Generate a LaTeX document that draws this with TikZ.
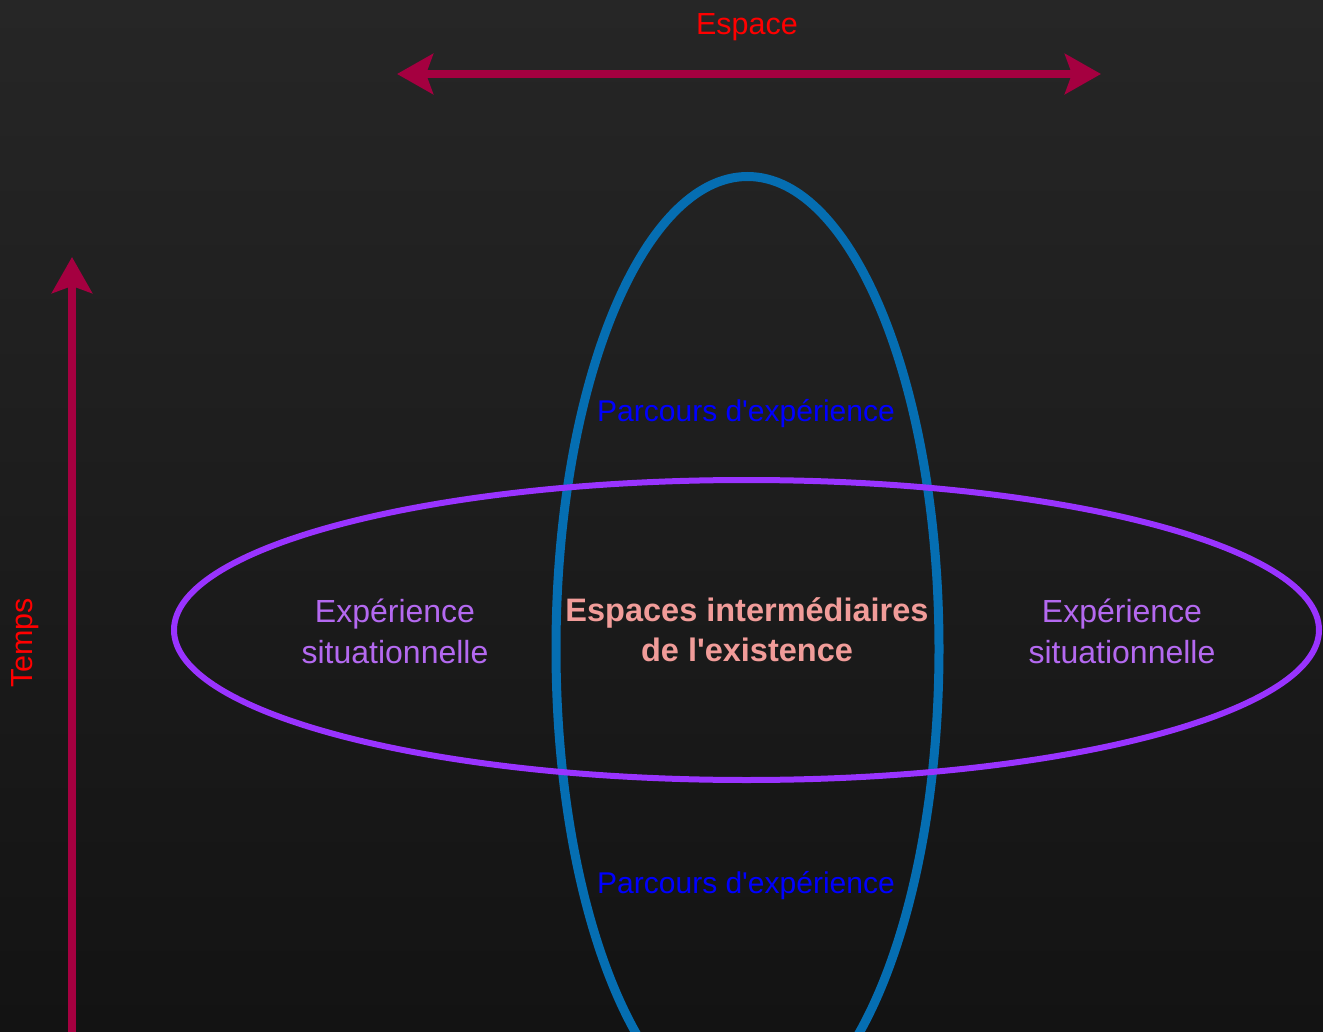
\documentclass[tikz,border=0pt]{standalone}
\usepackage{fontspec}
\setmainfont{Liberation Sans}[Ligatures=TeXOff]
\usetikzlibrary{arrows.meta}
\definecolor{bgtop}{RGB}{38,38,38}
\definecolor{bgbot}{RGB}{19,19,19}
\definecolor{axiscol}{RGB}{165,0,64}
\definecolor{axistext}{RGB}{255,0,0}
\definecolor{blueell}{RGB}{5,110,178}
\definecolor{purpleell}{RGB}{153,51,255}
\definecolor{parcol}{RGB}{0,0,255}
\definecolor{expcol}{RGB}{180,105,240}
\definecolor{centcol}{RGB}{241,156,153}
\tikzset{
  axisline/.style={draw=axiscol, line width=8pt,
    -{Stealth[length=36pt,width=40pt,inset=7pt]}},
  axislbl/.style={text=axistext, inner sep=0pt, font=\fontsize{30.5}{36}\selectfont},
  parlbl/.style={text=parcol, inner sep=0pt, font=\fontsize{30}{36}\selectfont},
  explbl/.style={text=expcol, inner sep=0pt, align=center, font=\fontsize{32}{41}\selectfont},
  centlbl/.style={text=centcol, inner sep=0pt, align=center, font=\fontsize{32.5}{40}\selectfont\bfseries},
}
\begin{document}
\begin{tikzpicture}[x=1pt,y=-1pt]
\useasboundingbox (0,0) rectangle (1323,1032);
\clip (0,0) rectangle (1323,1032);
\shade[top color=bgtop, bottom color=bgbot] (0,0) rectangle (1323,1032);
% axes
\coordinate (espL) at (397,74);
\coordinate (espR) at (1101,74);
\coordinate (tmpB) at (72,1045);
\coordinate (tmpT) at (72,257);
\draw[axisline, {Stealth[length=36pt,width=40pt,inset=7pt]}-{Stealth[length=36pt,width=40pt,inset=7pt]}] (espL) -- (espR);
\draw[axisline] (tmpB) -- (tmpT);
\node[axislbl] (espace) at (747,27) {Espace};
\node[axislbl, rotate=90] (temps) at (25,643) {Temps};
% ellipses
\draw[blueell, line width=9pt] (747.5,649) ellipse [x radius=191.5, y radius=472.5];
\draw[purpleell, line width=6pt] (746.5,630) ellipse [x radius=572.5, y radius=150];
% labels
\node[parlbl] (par1) at (746,414) {Parcours d'expérience};
\node[parlbl] (par2) at (746,886) {Parcours d'expérience};
\node[explbl] (expL) at (395,631) {Expérience\\situationnelle};
\node[explbl] (expR) at (1122,631) {Expérience\\situationnelle};
\node[centlbl] (cent) at (747,630) {Espaces intermédiaires\\de l'existence};
\end{tikzpicture}
\end{document}
